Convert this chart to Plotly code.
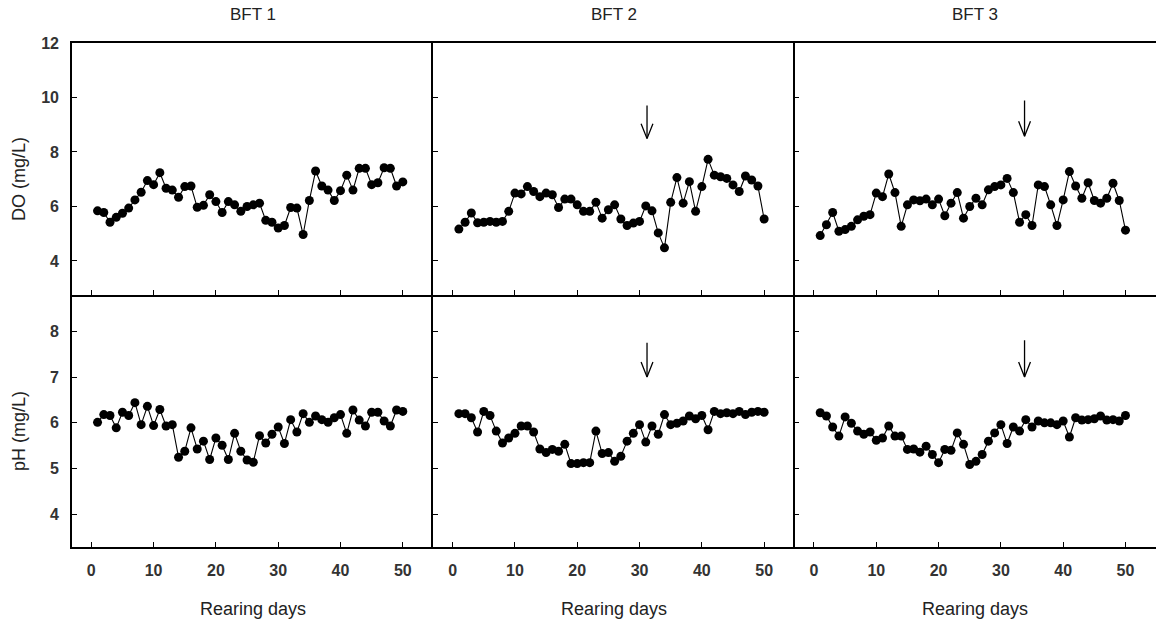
import plotly.graph_objects as go
from plotly.subplots import make_subplots

days = list(range(1, 51))
tanks = ["BFT 1", "BFT 2", "BFT 3"]
x_ticks = [0, 10, 20, 30, 40, 50]
do_ticks = [4, 6, 8, 10, 12]
ph_ticks = [4, 5, 6, 7, 8]

do_bft1 = [5.84, 5.78, 5.42, 5.60, 5.75, 5.94, 6.24, 6.52, 6.95, 6.80,
           7.24, 6.67, 6.60, 6.34, 6.73, 6.75, 5.97, 6.04, 6.43, 6.18,
           5.78, 6.18, 6.06, 5.82, 6.00, 6.06, 6.12, 5.49, 5.42, 5.21,
           5.30, 5.96, 5.94, 4.97, 6.22, 7.30, 6.75, 6.60, 6.22, 6.58,
           7.15, 6.60, 7.40, 7.40, 6.80, 6.87, 7.42, 7.40, 6.75, 6.90]
do_bft2 = [5.17, 5.42, 5.76, 5.40, 5.42, 5.45, 5.42, 5.45, 5.82, 6.49,
           6.46, 6.73, 6.55, 6.36, 6.49, 6.43, 5.96, 6.27, 6.27, 6.06,
           5.82, 5.82, 6.15, 5.57, 5.88, 6.06, 5.54, 5.30, 5.39, 5.45,
           6.02, 5.84, 5.03, 4.48, 6.15, 7.06, 6.12, 6.91, 5.82, 6.73,
           7.73, 7.15, 7.09, 7.03, 6.79, 6.55, 7.12, 6.97, 6.75, 5.54]
do_bft3 = [4.93, 5.33, 5.78, 5.09, 5.15, 5.27, 5.51, 5.64, 5.70, 6.49,
           6.36, 7.19, 6.51, 5.27, 6.06, 6.24, 6.21, 6.27, 6.06, 6.27,
           5.66, 6.12, 6.51, 5.57, 6.00, 6.30, 6.06, 6.61, 6.73, 6.79,
           7.03, 6.51, 5.42, 5.70, 5.30, 6.79, 6.73, 6.06, 5.30, 6.24,
           7.28, 6.75, 6.30, 6.87, 6.22, 6.12, 6.30, 6.85, 6.22, 5.13]

ph_bft1 = [6.01, 6.18, 6.16, 5.89, 6.23, 6.16, 6.44, 5.96, 6.36, 5.94,
           6.29, 5.93, 5.96, 5.25, 5.38, 5.89, 5.43, 5.60, 5.20, 5.67,
           5.51, 5.20, 5.77, 5.38, 5.19, 5.14, 5.72, 5.56, 5.75, 5.91,
           5.55, 6.07, 5.80, 6.20, 6.01, 6.15, 6.07, 6.01, 6.11, 6.18,
           5.77, 6.28, 6.06, 5.93, 6.23, 6.23, 6.04, 5.93, 6.28, 6.25]
ph_bft2 = [6.20, 6.20, 6.11, 5.80, 6.25, 6.16, 5.82, 5.56, 5.67, 5.77,
           5.93, 5.93, 5.80, 5.43, 5.35, 5.42, 5.38, 5.53, 5.11, 5.11,
           5.13, 5.13, 5.82, 5.33, 5.35, 5.16, 5.27, 5.60, 5.77, 5.96,
           5.58, 5.93, 5.75, 6.18, 5.96, 5.99, 6.04, 6.15, 6.09, 6.16,
           5.85, 6.25, 6.20, 6.22, 6.20, 6.25, 6.18, 6.23, 6.25, 6.23]
ph_bft3 = [6.22, 6.15, 5.91, 5.71, 6.13, 5.99, 5.82, 5.75, 5.80, 5.62,
           5.67, 5.93, 5.71, 5.71, 5.42, 5.43, 5.36, 5.49, 5.31, 5.13,
           5.42, 5.40, 5.78, 5.53, 5.09, 5.16, 5.31, 5.60, 5.78, 5.96,
           5.55, 5.91, 5.82, 6.07, 5.91, 6.04, 6.00, 6.00, 5.96, 6.04,
           5.69, 6.11, 6.06, 6.07, 6.09, 6.15, 6.06, 6.07, 6.04, 6.16]

# arrows marking an event (day, start value, tip value) per tank column
arrow_day = [None, 31.2, 33.8]
arrow_do_top = [None, 9.71, 9.89]
arrow_do_tip = [None, 8.49, 8.58]
arrow_ph_top = [None, 7.75, 7.80]
arrow_ph_tip = [None, 7.00, 7.00]

do_series = [do_bft1, do_bft2, do_bft3]
ph_series = [ph_bft1, ph_bft2, ph_bft3]

FONT = "Arial, 'Liberation Sans', sans-serif"

fig = make_subplots(rows=2, cols=3, horizontal_spacing=0, vertical_spacing=0)

for c in range(3):
    for r, series in ((1, do_series[c]), (2, ph_series[c])):
        fig.add_trace(go.Scatter(
            x=days, y=series, mode="lines+markers",
            line=dict(color="black", width=1.1),
            marker=dict(symbol="circle", size=9, color="black"),
            showlegend=False, hoverinfo="x+y"), row=r, col=c + 1)
    if arrow_day[c] is not None:
        d = arrow_day[c]
        for r, top, tip, hh in ((1, arrow_do_top[c], arrow_do_tip[c], 0.55),
                                (2, arrow_ph_top[c], arrow_ph_tip[c], 0.33)):
            fig.add_trace(go.Scatter(
                x=[d, d, None, d - 0.95, d, d + 0.95],
                y=[top, tip, None, tip + hh, tip, tip + hh],
                mode="lines", line=dict(color="black", width=1.3),
                showlegend=False, hoverinfo="skip"), row=r, col=c + 1)

axis_common = dict(showline=True, linecolor="black", linewidth=1.6,
                   ticks="inside", ticklen=5, tickwidth=1.4, tickcolor="black",
                   showgrid=False, zeroline=False,
                   tickfont=dict(family=FONT, size=16, color="#333333", weight="bold"))

for c in range(3):
    fig.update_xaxes(range=[-3.1, 54.9], tickvals=x_ticks, showticklabels=False,
                     mirror=True, row=1, col=c + 1, **axis_common)
    fig.update_xaxes(range=[-3.1, 54.9], tickvals=x_ticks, showticklabels=True,
                     mirror=False, ticklabelstandoff=8, row=2, col=c + 1, **axis_common)
    fig.update_yaxes(range=[2.75, 12], tickvals=do_ticks,
                     showticklabels=(c == 0), mirror=False,
                     ticklabelstandoff=8, row=1, col=c + 1, **axis_common)
    fig.update_yaxes(range=[3.29, 8.79], tickvals=ph_ticks,
                     showticklabels=(c == 0), mirror=False,
                     ticklabelstandoff=8, row=2, col=c + 1, **axis_common)

annotations = []
for c, name in enumerate(tanks):
    xc = (c + 0.5) / 3
    annotations.append(dict(text=name, x=xc, y=1, xref="paper", yref="paper",
                            yshift=29, showarrow=False, xanchor="center", yanchor="middle",
                            font=dict(family=FONT, size=17, color="#222222")))
    annotations.append(dict(text="Rearing days", x=xc, y=0, xref="paper", yref="paper",
                            yshift=-62, showarrow=False, xanchor="center", yanchor="middle",
                            font=dict(family=FONT, size=18, color="#222222")))
annotations.append(dict(text="DO (mg/L)", x=0, y=0.75, xref="paper", yref="paper",
                        xshift=-53, yshift=-10, textangle=-90, showarrow=False,
                        xanchor="center", yanchor="middle",
                        font=dict(family=FONT, size=18, color="#222222")))
annotations.append(dict(text="pH (mg/L)", x=0, y=0.25, xref="paper", yref="paper",
                        xshift=-53, yshift=-10, textangle=-90, showarrow=False,
                        xanchor="center", yanchor="middle",
                        font=dict(family=FONT, size=18, color="#222222")))

fig.update_layout(
    width=1156, height=624,
    margin=dict(l=72, r=0, t=43, b=77),
    paper_bgcolor="white", plot_bgcolor="white",
    annotations=annotations,
    font=dict(family=FONT),
)

fig.write_html("out.html",
               config={"displayModeBar": False},
               post_script="document.body.style.margin='0';document.body.style.overflow='hidden';")
